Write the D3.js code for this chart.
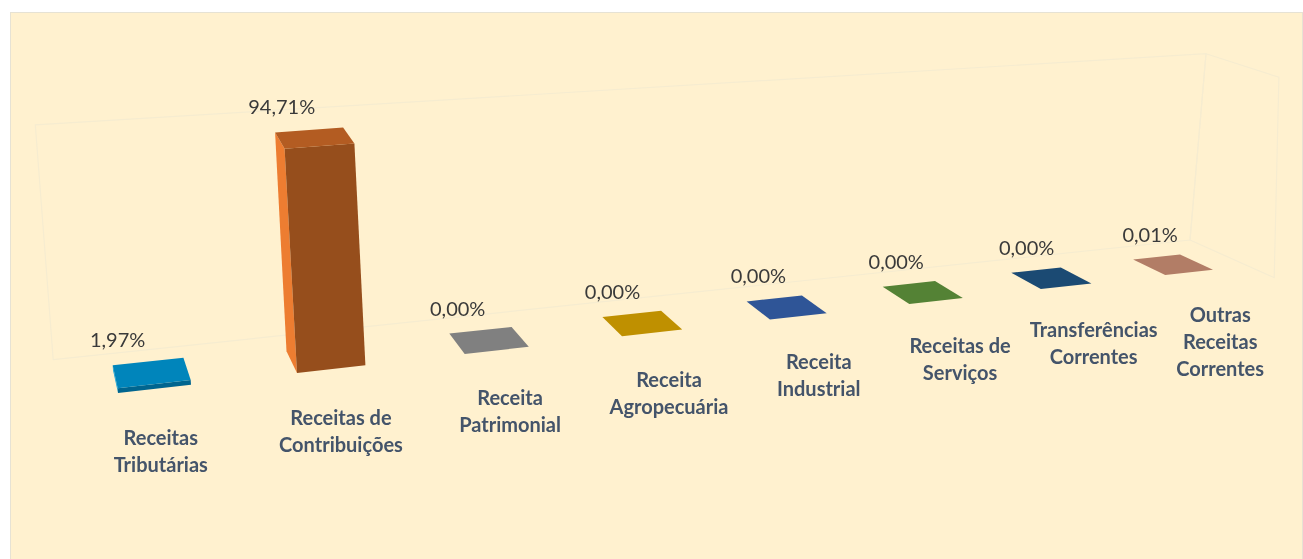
<!DOCTYPE html>
<html><head><meta charset="utf-8">
<script src="https://cdn.jsdelivr.net/npm/d3@7/dist/d3.min.js"></script>
<style>html,body{margin:0;padding:0;background:#fff}svg{display:block;filter:blur(0.45px)}
text{font-family:Lato,"Open Sans",sans-serif}</style></head><body>
<svg id="c" width="1303" height="559"></svg>
<script>
const categories = [["Receitas","Tributárias"],["Receitas de","Contribuições"],["Receita","Patrimonial"],["Receita","Agropecuária"],["Receita","Industrial"],["Receitas de","Serviços"],["Transferências","Correntes"],["Outras","Receitas","Correntes"]];
const values = [1.97,94.71,0,0,0,0,0,0.01];
const topColors = ["#0085bb","#b35c22","#808080","#bf9000","#2f5597","#548235","#1b4a73","#b27d66"];
const frontColors = ["#00658f","#964e1c","#6a6a6a","#a37b00","#28497f","#47702d","#163e61","#966a56"];
const sideColors = ["#00a0e0","#ed7d31","#8c8c8c","#d0a000","#3563a8","#5f933c","#225684","#c08a72"];

(function(){
const W=1303,H=559;
const svg=d3.select("#c");
svg.append("rect").attr("width",W).attr("height",H).attr("fill","#fff");
svg.append("rect").attr("x",10.5).attr("y",12.5).attr("width",W-11).attr("height",H).attr("fill","#fff1cf").attr("stroke","#e6e2d4");

// floor plane: unit square -> picture quad
function quadMap(p0,p1,p2,p3){ // (0,0),(1,0),(1,1),(0,1)
  const dx1=p1[0]-p2[0],dx2=p3[0]-p2[0],sx=p0[0]-p1[0]+p2[0]-p3[0];
  const dy1=p1[1]-p2[1],dy2=p3[1]-p2[1],sy=p0[1]-p1[1]+p2[1]-p3[1];
  const den=dx1*dy2-dx2*dy1;
  const g=(sx*dy2-dx2*sy)/den,h=(dx1*sy-sx*dy1)/den;
  const a=p1[0]-p0[0]+g*p1[0],b=p3[0]-p0[0]+h*p3[0],c=p0[0];
  const d=p1[1]-p0[1]+g*p1[1],e=p3[1]-p0[1]+h*p3[1],f=p0[1];
  return (u,v)=>{const w=g*u+h*v+1;return [(a*u+b*v+c)/w,(d*u+e*v+f)/w];};
}
const floor=quadMap([113,370],[1180,254.5],[1213,269.75],[118,393]);
const band=d3.scaleBand().domain(d3.range(categories.length)).range([0,1]).paddingInner(0.6).paddingOuter(0);
const y=d3.scaleLinear().domain([0,100]).range([0,1]);
function P(u,v,val){
  const [x,yy]=floor(u,v);
  const rise=237-44.7*u+5.6*v;
  const lean=-0.07+0.15*u-0.024*u*(v+0.75);
  const h=y(val)*rise;
  return [x+lean*h,yy-h];
}
const path=pts=>"M"+pts.map(p=>p.map(n=>n.toFixed(1)).join(",")).join("L")+"Z";

// walls
const uL=-0.043,uR=1.04,dB=-0.75,dF=1.75,wallTop=100;
const wall=svg.append("g").attr("fill","none").attr("stroke","#f6ecd0").attr("stroke-width",1.2);
wall.append("path").attr("d",path([P(uL,dB,0),P(uR,dB,0),P(uR,dB,wallTop),P(uL,dB,wallTop)]));
wall.append("path").attr("d",path([P(uR,dB,0),P(uR,dF,0),P(uR,dF,wallTop),P(uR,dB,wallTop)]));

// bars
const bars=svg.append("g").selectAll("g").data(values).join("g");
bars.each(function(v,i){
  const g=d3.select(this),a=band(i),b=a+band.bandwidth();
  const BL=P(a,0,0),FL=P(a,1,0),FR=P(b,1,0),tBL=P(a,0,v),tBR=P(b,0,v),tFL=P(a,1,v),tFR=P(b,1,v);
  g.append("path").attr("d",path([BL,FL,tFL,tBL])).attr("fill",sideColors[i]);
  g.append("path").attr("d",path([FL,FR,tFR,tFL])).attr("fill",frontColors[i]);
  g.append("path").attr("d",path([tBL,tBR,tFR,tFL])).attr("fill",topColors[i]);
});

// value labels
const fmt=d3.formatLocale({decimal:",",thousands:".",grouping:[3],currency:["",""]}).format(".2f");
const vDx=d3.scaleLinear().domain([0,7]).range([5,17]);
svg.append("g").selectAll("text").data(values).join("text")
  .attr("text-anchor","middle").attr("font-size",20).attr("fill","#3a3a3a")
  .attr("x",(v,i)=>P(band(i),0,v)[0]+vDx(i))
  .attr("y",(v,i)=>P(band(i),0,v)[1]-18)
  .text(v=>fmt(v)+"%");

// category labels
const cDx=d3.scaleLinear().domain([0,7]).range([6,31]);
const cDy=d3.scaleLinear().domain([0,7]).range([56.5,50]);
const lab=svg.append("g").selectAll("text").data(categories).join("text")
  .attr("text-anchor","middle").attr("font-size",20).attr("font-weight",700).attr("fill","#44546a");
lab.each(function(lines,i){
  const m=band(i)+band.bandwidth()/2,p=P(m,1,0);
  d3.select(this).selectAll("tspan").data(lines).join("tspan")
    .attr("x",p[0]+cDx(i)).attr("y",(l,k)=>p[1]+cDy(i)+k*27).text(l=>l);
});
})();
</script></body></html>
